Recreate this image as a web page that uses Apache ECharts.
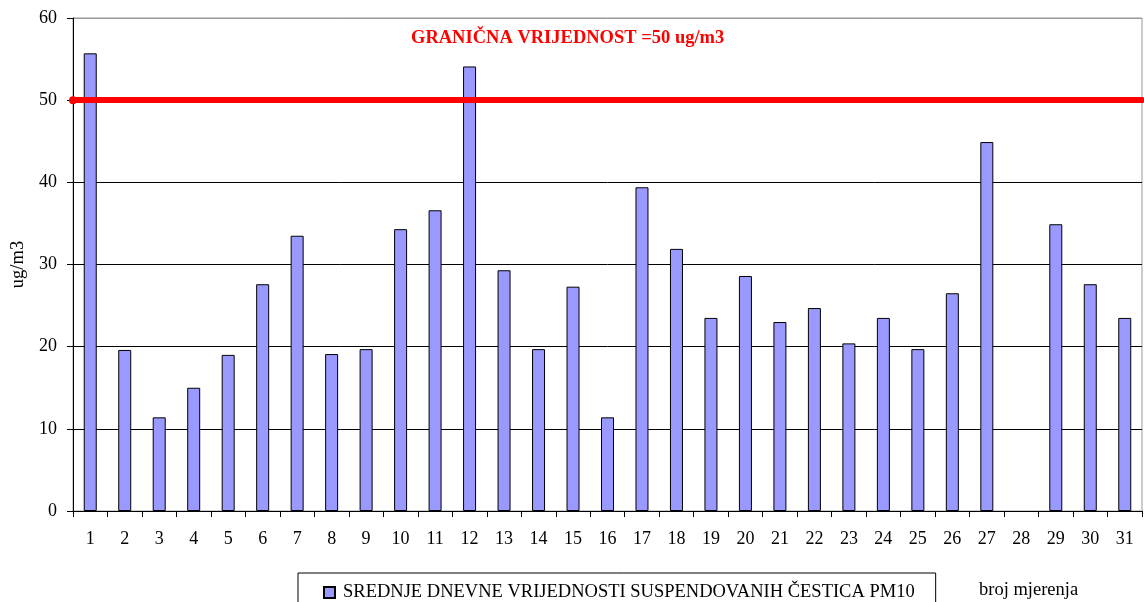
<!DOCTYPE html>
<html>
<head>
<meta charset="utf-8">
<script src="https://cdn.jsdelivr.net/npm/echarts@6/dist/echarts.min.js"></script>
<style>html,body{margin:0;padding:0;background:#fff;}#c{width:1144px;height:602px;}</style>
</head>
<body>
<div id="c"></div>
<script>
var categories = ['1','2','3','4','5','6','7','8','9','10','11','12','13','14','15','16','17','18','19','20','21','22','23','24','25','26','27','28','29','30','31'];
var pm10Values = [55.7,19.6,11.4,15.0,19.0,27.6,33.5,19.1,19.7,34.3,36.6,54.1,29.3,19.7,27.3,11.4,39.4,31.9,23.5,28.6,23.0,24.7,20.4,23.5,19.7,26.5,44.9,null,34.9,27.6,23.5];
var limitValue = 50;
var seriesName = 'SREDNJE DNEVNE VRIJEDNOSTI SUSPENDOVANIH ČESTICA PM10';
var limitText = 'GRANIČNA VRIJEDNOST =50 ug/m3';
var yAxisName = 'ug/m3';
var xAxisName = 'broj mjerenja';

var serif = '"Liberation Serif", "Times New Roman", serif';
var chart = echarts.init(document.getElementById('c'), null, {renderer: 'canvas'});
chart.setOption({
  animation: false,
  backgroundColor: '#fff',
  grid: {left: 73, right: 2, top: 18, bottom: 91, show: true, borderColor: '#999', borderWidth: 1, containLabel: false, outerBoundsMode: 'none'},
  legend: {
    left: 298, top: 573,
    padding: [10, 21, 10, 25],
    borderColor: '#000', borderWidth: 1,
    itemWidth: 11, itemHeight: 11,
    icon: 'rect',
    textStyle: {fontFamily: serif, fontSize: 18.5, color: '#000', lineHeight: 18, padding: [0, 0, 0, 3]},
    data: [seriesName]
  },
  xAxis: {
    type: 'category',
    data: categories,
    axisLine: {lineStyle: {color: '#000', width: 1}},
    axisTick: {show: true, length: 6, lineStyle: {color: '#000'}},
    axisLabel: {fontFamily: serif, fontSize: 18, color: '#000', margin: 19, interval: 0}
  },
  yAxis: {
    type: 'value', min: 0, max: 60, interval: 10,
    name: yAxisName, nameLocation: 'middle', nameGap: 44,
    nameTextStyle: {fontFamily: serif, fontSize: 18.5, color: '#000'},
    axisLine: {show: true, lineStyle: {color: '#000', width: 1}},
    axisTick: {show: true, length: 6, lineStyle: {color: '#000'}},
    axisLabel: {fontFamily: serif, fontSize: 18, color: '#000', margin: 16},
    splitLine: {show: true, lineStyle: {color: ['#000','#000','#000','#000','#000','#000','#999'], width: 1}}
  },
  series: [{
    name: seriesName,
    type: 'bar',
    data: pm10Values,
    barWidth: 13,
    itemStyle: {color: '#9999ff', borderColor: '#000', borderWidth: 1},
    markLine: {
      silent: true,
      symbol: ['circle', 'none'],
      symbolSize: 8,
      label: {show: false},
      lineStyle: {color: '#ff0000', width: 6, type: 'solid', cap: 'round'},
      itemStyle: {color: '#ff0000'},
      data: [{yAxis: limitValue}],
      z: 10
    }
  }],
  graphic: [
    {type: 'text', left: 411, top: 29, style: {text: limitText, fontFamily: serif, fontWeight: 'bold', fontSize: 18.5, fill: '#ff0000'}},
    {type: 'text', left: 979, top: 581, style: {text: xAxisName, fontFamily: serif, fontSize: 18.5, fill: '#000'}}
  ]
});
</script>
</body>
</html>
